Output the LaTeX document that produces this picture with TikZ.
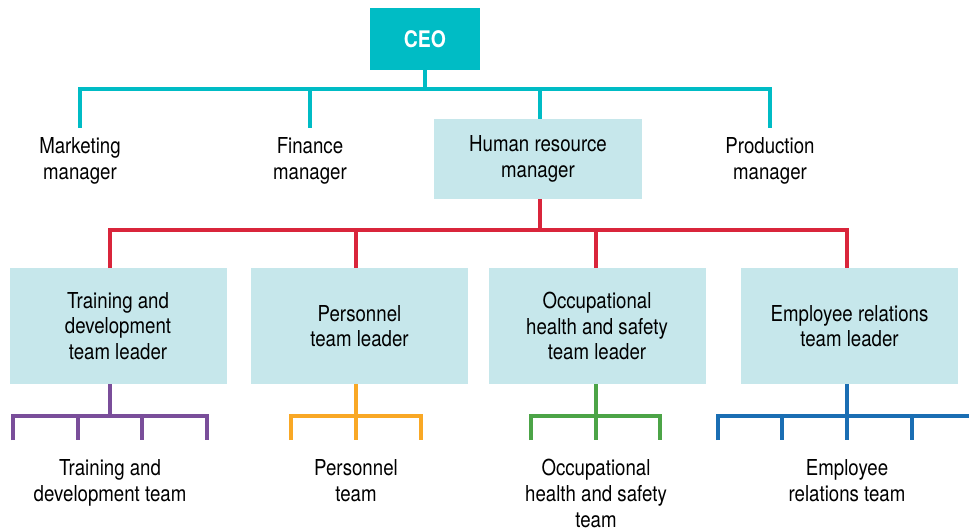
\documentclass[tikz,border=0pt]{standalone}
\usepackage{fontspec}
\setmainfont{TeX Gyre Heros}[FakeStretch=0.85]
\usepackage{tikz}
\usetikzlibrary{positioning,calc}

\definecolor{ceoteal}{HTML}{00BCC5}
\definecolor{boxblue}{HTML}{C6E7EB}
\definecolor{linered}{HTML}{D9253B}
\definecolor{linepurple}{HTML}{7A4E9A}
\definecolor{lineorange}{HTML}{F9A825}
\definecolor{linegreen}{HTML}{4CA447}
\definecolor{lineblue}{HTML}{1A6EB3}

\tikzset{
    label text/.style={font=\fontsize{12.5}{14.6}\selectfont, align=center, inner sep=0pt},
    plain text/.style={label text, anchor=north},
    role box/.style={label text, fill=boxblue, minimum width=217*0.02cm, minimum height=116*0.02cm},
    link/.style={line width=1.9pt},
}

\begin{document}
\begin{tikzpicture}[x=0.02cm, y=-0.02cm]
    \useasboundingbox (0,0) rectangle (969,530);

    % CEO
    \node[fill=ceoteal, text=white, font=\fontsize{13}{15}\bfseries, minimum width=110*0.02cm, minimum height=62*0.02cm, inner sep=0pt] (ceo) at (425,39) {CEO};

    % Managers
    \node[plain text] (mkt) at (80,137) {Marketing\\manager};
    \node[plain text] (fin) at (310,137) {Finance\\manager};
    \node[label text, fill=boxblue, minimum width=208*0.02cm, minimum height=80*0.02cm] (hr) at (538,159) {Human resource\\manager};
    \node[plain text] (prod) at (770,137) {Production\\manager};

    \coordinate (cbar) at (425,89);
    \coordinate (mtop) at (80,128);
    \coordinate (ftop) at (310,128);
    \coordinate (htop) at (540,119);
    \coordinate (ptop) at (770,128);
    \draw[link, ceoteal] (ceo.south) -- (cbar);
    \draw[link, ceoteal] (mtop) |- (cbar) -| (ptop);
    \draw[link, ceoteal] (ftop |- cbar) -- (ftop);
    \draw[link, ceoteal] (htop |- cbar) -- (htop);

    % Team leaders
    \node[role box] (tdl) at (118,326) {Training and\\development\\team leader};
    \node[role box] (pel) at (359.5,326) {Personnel\\team leader};
    \node[role box] (ohl) at (597,326) {Occupational\\health and safety\\team leader};
    \node[role box] (erl) at (849.5,326) {Employee relations\\team leader};

    \coordinate (hbot) at (540,199);
    \coordinate (rbar) at (540,230);
    \coordinate (t1) at (110,268);
    \coordinate (t2) at (356,268);
    \coordinate (t3) at (596,268);
    \coordinate (t4) at (847,268);
    \draw[link, linered] (hbot) -- (rbar);
    \draw[link, linered] (t1) |- (rbar) -| (t4);
    \draw[link, linered] (rbar -| t2) -- (t2);
    \draw[link, linered] (rbar -| t3) -- (t3);

    % Teams
    \node[plain text] (tdt) at (110,459) {Training and\\development team};
    \node[plain text] (pet) at (356,459) {Personnel\\team};
    \node[plain text] (oht) at (596,459) {Occupational\\health and safety\\team};
    \node[plain text] (ert) at (847,459) {Employee\\relations team};

    % Training and development
    \coordinate (pb) at (110,416);
    \draw[link, linepurple] (110,384) -- (pb);
    \draw[link, linepurple] (13,440) |- (pb) -| (207,440);
    \foreach \x in {78,142} \draw[link, linepurple] (\x,416) -- (\x,440);

    % Personnel
    \coordinate (ob) at (356,416);
    \draw[link, lineorange] (356,384) -- (ob);
    \draw[link, lineorange] (291,440) |- (ob) -| (421,440);
    \draw[link, lineorange] (ob) -- (356,440);

    % Occupational health and safety
    \coordinate (gb) at (596,416);
    \draw[link, linegreen] (596,384) -- (gb);
    \draw[link, linegreen] (531,440) |- (gb) -| (660,440);
    \draw[link, linegreen] (gb) -- (596,440);

    % Employee relations
    \coordinate (bb) at (847,416);
    \draw[link, lineblue] (847,384) -- (bb);
    \draw[link, lineblue] (718,440) |- (bb) -- (969,416);
    \foreach \x in {782,847,912} \draw[link, lineblue] (\x,416) -- (\x,440);
\end{tikzpicture}
\end{document}
